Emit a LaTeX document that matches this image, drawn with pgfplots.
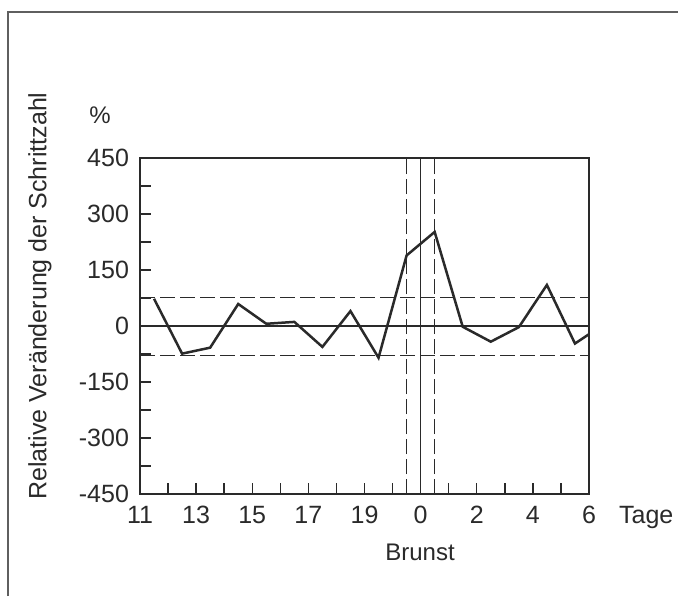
\documentclass[border=0pt]{standalone}
\usepackage{fontspec}
\setmainfont{Liberation Sans}
\usepackage{pgfplots}
\pgfplotsset{compat=1.18}
\definecolor{ink}{HTML}{2A2A2A}

\begin{document}
\begin{tikzpicture}
\useasboundingbox (-70pt,-51pt) rectangle (269pt,247pt);
\fill[white] (-70pt,-51pt) rectangle (269pt,247pt);
% frame of the scanned figure
\draw[ink!75, line width=0.6pt] (-66pt,-51pt) -- (-66pt,241pt) -- (269pt,241pt);
\begin{axis}[
    at={(0,0)}, anchor=south west,
    width=224.5pt, height=168pt, scale only axis,
    xmin=0, xmax=16, ymin=-450, ymax=450,
    xtick={0,...,16},
    xticklabels={11,,13,,15,,17,,19,,0,,2,,4,,6},
    ytick={-450,-375,...,450},
    yticklabels={-450,,-300,,-150,,0,,150,,300,,450},
    tick align=inside, tick pos=left,
    major tick length=5.5pt,
    axis line style={ink, line width=0.7pt},
    tick style={ink, line width=0.7pt},
    tick label style={font=\fontsize{12.5}{14}\selectfont, text=ink},
    yticklabel style={xshift=-2pt},
    xticklabel style={yshift=-2.5pt},
    clip=false,
]
% reference lines
\addplot[ink, line width=0.6pt] coordinates {(0,0) (16,0)};
\addplot[ink, line width=0.6pt, dash pattern=on 7.5pt off 2.5pt] coordinates {(0,76) (16,76)};
\addplot[ink, line width=0.6pt, dash pattern=on 7.5pt off 2.5pt] coordinates {(0,-78) (16,-78)};
\addplot[ink, line width=0.6pt] coordinates {(10,-450) (10,450)};
\addplot[ink, line width=0.6pt, dash pattern=on 7.5pt off 2.5pt] coordinates {(9.5,-450) (9.5,450)};
\addplot[ink, line width=0.6pt, dash pattern=on 7.5pt off 2.5pt] coordinates {(10.5,-450) (10.5,450)};
% relative change of step count
\addplot[ink, line width=1.25pt, line join=miter, mark=none] coordinates {
  (0.5,73) (1.5,-74) (2.5,-58) (3.5,59) (4.5,6) (5.5,11) (6.5,-56)
  (7.5,40) (8.5,-85) (9.5,189) (10.5,252) (11.5,-2) (12.5,-42)
  (13.5,-3) (14.5,110) (15.5,-47) (16,-22)
};
\end{axis}
\node[rotate=90, text=ink, font=\fontsize{12.5}{14}\selectfont] at (-50pt,99pt) {Relative Veränderung der Schrittzahl};
\node[text=ink, font=\fontsize{12}{14}\selectfont] at (-20pt,189.5pt) {\%};
\node[text=ink, font=\fontsize{12.5}{14}\selectfont, anchor=west] at (236pt,-11.5pt) {Tage};
\node[text=ink, font=\fontsize{12}{14}\selectfont] at (140pt,-29pt) {Brunst};
\end{tikzpicture}
\end{document}
